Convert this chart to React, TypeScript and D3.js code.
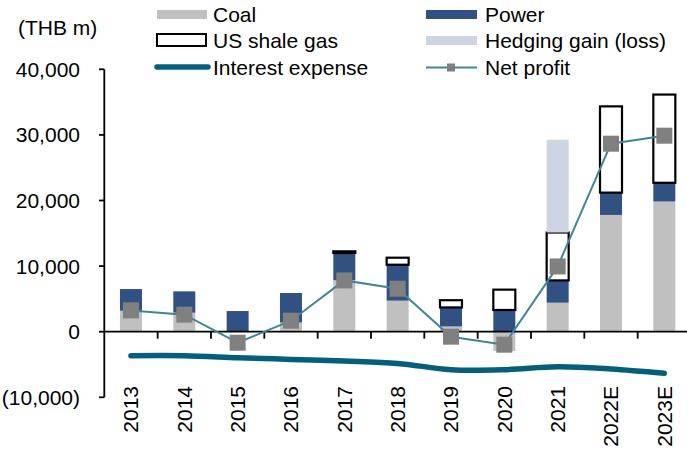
import React from 'react';
import * as d3 from 'd3';

const years = ['2013', '2014', '2015', '2016', '2017', '2018', '2019', '2020', '2021', '2022E', '2023E'];
const coal = [3200, 2900, 0, 1400, 7850, 4730, 800, -2950, 4420, 17800, 19850];
const power = [3300, 3250, 3150, 4500, 4150, 5480, 2900, 3310, 3400, 3400, 2850];
const shaleGas = [0, 0, 0, 0, 250, 1070, 1100, 3100, 7300, 13150, 13450];
const hedging = [0, 0, 0, 0, 0, 0, 0, 0, 14150, 0, 0];
const interestExpense = [-3660, -3660, -3960, -4220, -4470, -4830, -5790, -5790, -5340, -5690, -6350];
const netProfit = [3250, 2600, -1680, 1680, 7820, 6550, -760, -1980, 9950, 28660, 29880];
const yTicks = [40000, 30000, 20000, 10000, 0, -10000];

const W = 687;
const H = 476;
const FONT = 'Liberation Sans, Arial, sans-serif';
const FS = 21;

const C_COAL = '#C0C0C0';
const C_POWER = '#315183';
const C_HEDGE = '#CDD5E2';
const C_INT = '#04607A';
const C_NP = '#3E8698';
const C_MARK = '#808080';

const fmt = (v: number) => {
  const s = d3.format(',')(Math.abs(v));
  return v < 0 ? `(${s})` : s;
};

export default function App() {
  const x = d3.scaleBand<string>().domain(years).range([104.3, 691]).padding(0);
  const y = d3.scaleLinear().domain([-10000, 40000]).range([397.3, 69.3]);
  const bw = 22;
  const cx = (yr: string) => (x(yr) as number) + x.bandwidth() / 2;

  const table = years.map((yr, i) => ({
    year: yr,
    coal: coal[i],
    power: power[i],
    shale: shaleGas[i],
    hedging: hedging[i],
  }));
  const keys = ['coal', 'power', 'shale', 'hedging'];
  const stacked = d3.stack<any>().keys(keys).offset(d3.stackOffsetDiverging)(table);

  const fills: Record<string, string> = { coal: C_COAL, power: C_POWER, shale: '#FFFFFF', hedging: C_HEDGE };

  const intLine = d3
    .line<number>()
    .x((_, i) => cx(years[i]))
    .y((d) => y(d))
    .curve(d3.curveCatmullRom.alpha(0.5));
  const npLine = d3
    .line<number>()
    .x((_, i) => cx(years[i]))
    .y((d) => y(d));

  const y0 = y(0);

  return (
    <svg width={W} height={H} style={{ position: 'absolute', left: 0, top: 0, background: '#fff' }} fontFamily={FONT}>
      {/* legend */}
      <text x={18} y={27} fontSize={FS} dominantBaseline="central" fill="#000">(THB m)</text>
      <g fontSize={FS} fill="#000">
        <rect x={157} y={10} width={50} height={9} fill={C_COAL} />
        <text x={213} y={14.5} dominantBaseline="central">Coal</text>
        <rect x={157} y={34} width={49} height={12} fill="#fff" stroke="#000" strokeWidth={2} />
        <text x={213} y={40.5} dominantBaseline="central">US shale gas</text>
        <line x1={157} x2={208} y1={67} y2={67} stroke={C_INT} strokeWidth={5.5} strokeLinecap="round" />
        <text x={213} y={67} dominantBaseline="central">Interest expense</text>
        <rect x={426} y={10} width={51} height={9} fill={C_POWER} />
        <text x={485} y={14.5} dominantBaseline="central">Power</text>
        <rect x={426} y={36} width={51} height={9} fill={C_HEDGE} />
        <text x={485} y={40.5} dominantBaseline="central">Hedging gain (loss)</text>
        <line x1={426} x2={477} y1={67.5} y2={67.5} stroke={C_NP} strokeWidth={2} />
        <rect x={447} y={63.5} width={8} height={8} fill={C_MARK} />
        <text x={485} y={67} dominantBaseline="central">Net profit</text>
      </g>

      {/* bars */}
      {stacked.map((layer) => (
        <g key={layer.key}>
          {layer.map((d, i) => {
            if (Math.abs(d[1] - d[0]) < 1) return null;
            const top = y(Math.max(d[0], d[1]));
            const bot = y(Math.min(d[0], d[1]));
            const isShale = layer.key === 'shale';
            return (
              <rect
                key={i}
                x={cx(years[i]) - bw / 2}
                y={top}
                width={bw}
                height={bot - top}
                fill={fills[layer.key]}
                stroke={isShale ? '#000' : 'none'}
                strokeWidth={isShale ? 2.2 : 0}
              />
            );
          })}
        </g>
      ))}

      {/* y axis */}
      <g stroke="#000" strokeWidth={1.8}>
        <line x1={104.3} x2={104.3} y1={y(40000)} y2={y(-10000)} />
        {yTicks.map((t) => (
          <line key={t} x1={99} x2={104.3} y1={y(t)} y2={y(t)} />
        ))}
      </g>
      <g fontSize={FS} fill="#000" textAnchor="end">
        {yTicks.map((t) => (
          <text key={t} x={80} y={y(t)} dominantBaseline="central">{fmt(t)}</text>
        ))}
      </g>

      {/* x axis */}
      <g stroke="#000" strokeWidth={1.8}>
        <line x1={104.3} x2={691} y1={y0} y2={y0} />
        {years.map((yr) => (
          <line key={yr} x1={(x(yr) as number) + x.bandwidth()} x2={(x(yr) as number) + x.bandwidth()} y1={y0} y2={y0 + 7} />
        ))}
      </g>
      <g fontSize={FS} fill="#000">
        {years.map((yr) => (
          <text
            key={yr}
            transform={`translate(${cx(yr)},386) rotate(-90)`}
            textAnchor="end"
            dominantBaseline="central"
          >
            {yr}
          </text>
        ))}
      </g>

      {/* lines */}
      <path d={intLine(interestExpense) || ''} fill="none" stroke={C_INT} strokeWidth={5.5} strokeLinecap="round" />
      <path d={npLine(netProfit) || ''} fill="none" stroke={C_NP} strokeWidth={2} />
      {netProfit.map((v, i) => (
        <rect key={i} x={cx(years[i]) - 8} y={y(v) - 8} width={16} height={16} fill={C_MARK} />
      ))}
    </svg>
  );
}
